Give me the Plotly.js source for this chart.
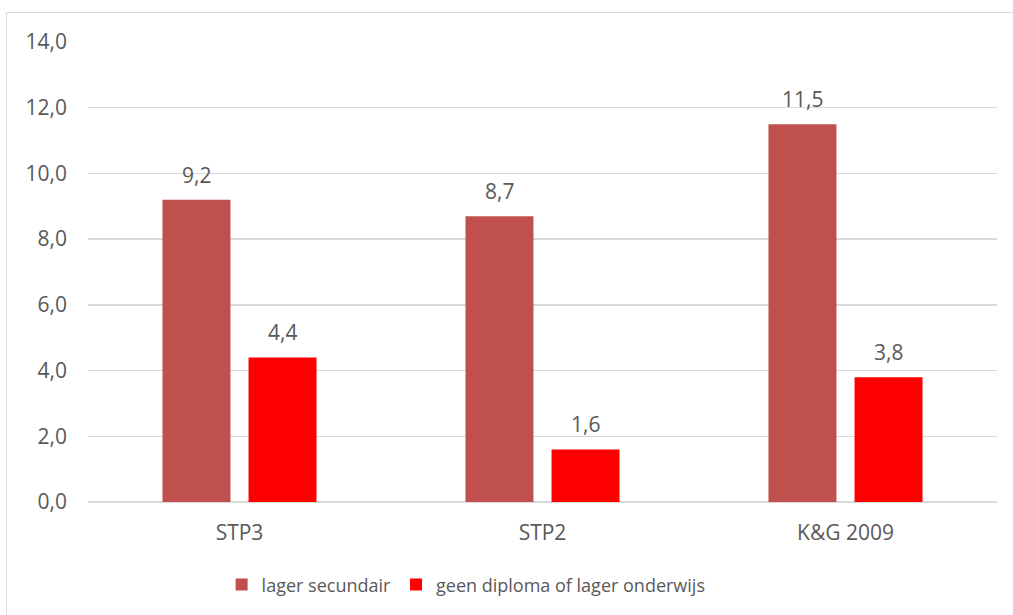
<!DOCTYPE html>
<html>
<head>
<meta charset="utf-8">
<script src="https://cdn.plot.ly/plotly-3.0.1.min.js"></script>
<style>
html,body{margin:0;padding:0;background:#fff;overflow:hidden;}
#chart{width:1013px;height:615px;}
#frame{position:absolute;left:6px;top:12px;width:1030px;height:640px;border:1.5px solid #d9d9d9;pointer-events:none;}
</style>
</head>
<body>
<div id="chart"></div>
<div id="frame"></div>
<script>
var categories = ["STP3", "STP2", "K&G 2009"];
var seriesNames = ["lager secundair", "geen diploma of lager onderwijs"];
var lagerSecundair = [9.2, 8.7, 11.5];
var geenDiploma = [4.4, 1.6, 3.8];
var yTickVals = [0, 2, 4, 6, 8, 10, 12, 14];

var colors = ["#C0504D", "#FF0000"];
var fontFam = "Open Sans, Noto Sans, sans-serif";
var txtColor = "#595959";

var traces = [
  {type: "bar", name: seriesNames[0], x: categories, y: lagerSecundair, marker: {color: colors[0]}, hoverinfo: "none"},
  {type: "bar", name: seriesNames[1], x: categories, y: geenDiploma, marker: {color: colors[1]}, hoverinfo: "none"}
];

var annotations = [];
[lagerSecundair, geenDiploma].forEach(function (vals, s) {
  vals.forEach(function (v, i) {
    annotations.push({
      x: categories[i], y: v, xref: "x", yref: "y",
      xshift: s === 0 ? -43 : 43, yshift: 9,
      yanchor: "bottom", showarrow: false,
      text: v.toFixed(1).replace(".", ","),
      font: {family: fontFam, size: 21, color: txtColor}
    });
  });
});

var layout = {
  width: 1013, height: 615,
  margin: {l: 88, r: 16, t: 42, b: 113},
  paper_bgcolor: "#fff", plot_bgcolor: "#fff",
  separators: ",.",
  barmode: "group",
  bargap: 0.432,
  bargroupgap: 0.21,
  font: {family: fontFam, size: 19, color: txtColor},
  xaxis: {
    type: "category", showgrid: false, zeroline: false, showline: false,
    ticks: "", ticklabelstandoff: 16,
    tickfont: {family: fontFam, size: 21, color: txtColor}
  },
  yaxis: {
    range: [0, 14], tickvals: yTickVals, tickformat: ".1f",
    showgrid: true, gridcolor: "#d9d9d9", gridwidth: 1.5,
    zeroline: true, zerolinecolor: "#d9d9d9", zerolinewidth: 1.5,
    showline: false, ticks: "", ticklabelstandoff: 20,
    tickfont: {family: fontFam, size: 21, color: txtColor}
  },
  showlegend: true,
  legend: {
    orientation: "h", x: 0.147, xanchor: "left", y: -0.14, yanchor: "top",
    font: {family: fontFam, size: 18, color: txtColor},
    traceorder: "normal", itemclick: false
  },
  annotations: annotations
};

Plotly.newPlot("chart", traces, layout, {displayModeBar: false, staticPlot: true});
</script>
</body>
</html>
